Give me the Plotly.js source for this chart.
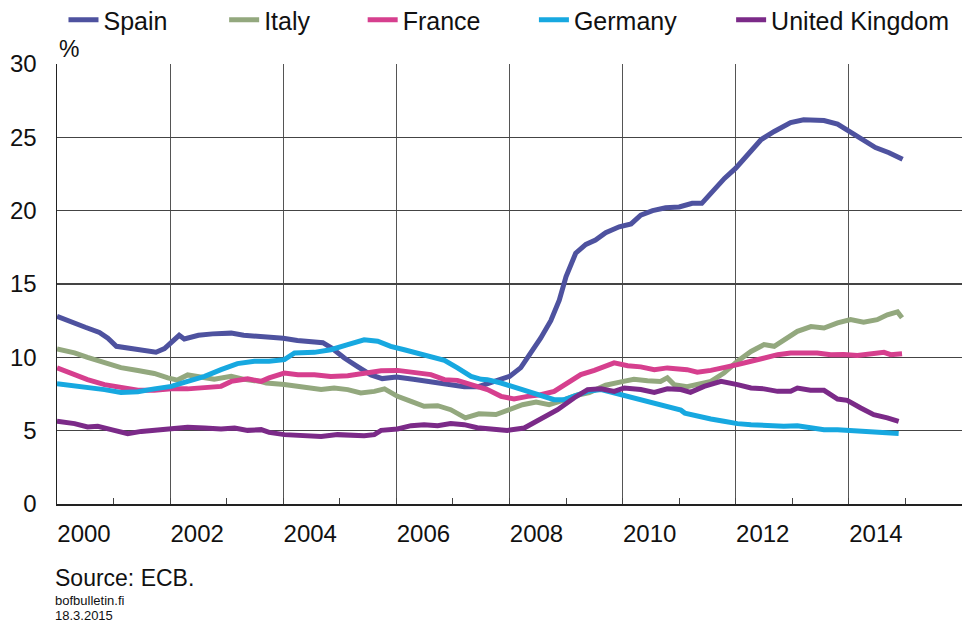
<!DOCTYPE html>
<html>
<head>
<meta charset="utf-8">
<script src="https://cdn.plot.ly/plotly-3.0.1.min.js"></script>
<style>html,body{margin:0;padding:0;background:#fff;}#chart{width:962px;height:627px;}</style>
</head>
<body>
<div id="chart"></div>
<script>
// Unemployment rate, % (decimal years)
const spainX = [2000.0,2000.25,2000.5,2000.75,2000.9,2001.05,2001.3,2001.55,2001.75,2001.9,2002.07,2002.16,2002.25,2002.5,2002.75,2003.08,2003.3,2003.5,2003.75,2004.0,2004.25,2004.5,2004.7,2004.85,2005.08,2005.3,2005.55,2005.75,2006.0,2006.3,2006.6,2006.9,2007.2,2007.45,2007.75,2008.0,2008.2,2008.38,2008.55,2008.73,2008.88,2009.0,2009.17,2009.35,2009.52,2009.7,2009.94,2010.15,2010.32,2010.53,2010.76,2011.0,2011.23,2011.4,2011.58,2011.8,2012.0,2012.2,2012.45,2012.68,2012.97,2013.2,2013.56,2013.8,2014.0,2014.24,2014.47,2014.71,2014.95];
const spainY = [12.8,12.4,12.05,11.7,11.3,10.75,10.6,10.4,10.35,10.6,11.15,11.5,11.25,11.5,11.6,11.65,11.5,11.45,11.4,11.3,11.15,11.1,11.0,10.65,9.95,9.4,8.8,8.55,8.65,8.5,8.35,8.2,8.0,8.0,8.4,8.7,9.3,10.3,11.3,12.5,13.9,15.5,17.1,17.7,18.0,18.5,18.9,19.1,19.7,20.0,20.2,20.25,20.5,20.5,21.3,22.2,22.9,23.8,24.85,25.4,26.0,26.2,26.15,25.9,25.4,24.9,24.3,23.95,23.5];

const italyX = [2000.0,2000.31,2000.54,2000.84,2001.13,2001.43,2001.72,2001.96,2002.13,2002.31,2002.55,2002.78,2003.08,2003.31,2003.61,2003.7,2004.02,2004.37,2004.67,2004.9,2005.14,2005.37,2005.61,2005.79,2006.02,2006.26,2006.49,2006.73,2006.96,2007.22,2007.46,2007.76,2007.99,2008.23,2008.47,2008.7,2008.93,2009.17,2009.41,2009.7,2009.97,2010.2,2010.44,2010.67,2010.79,2010.91,2011.14,2011.32,2011.56,2011.79,2012.03,2012.27,2012.5,2012.68,2012.85,2013.09,2013.33,2013.56,2013.8,2014.03,2014.26,2014.5,2014.68,2014.86,2014.94];
const italyY = [10.57,10.3,10.0,9.6,9.3,9.1,8.9,8.6,8.45,8.8,8.65,8.5,8.7,8.5,8.35,8.25,8.15,8.0,7.8,7.9,7.8,7.57,7.68,7.85,7.34,7.0,6.66,6.7,6.43,5.87,6.15,6.1,6.45,6.77,6.95,6.77,7.05,7.4,7.6,8.1,8.33,8.5,8.4,8.36,8.6,8.14,8.0,8.14,8.36,8.93,9.73,10.4,10.87,10.75,11.2,11.77,12.1,12.0,12.35,12.57,12.4,12.57,12.9,13.1,12.7];

const franceX = [2000.0,2000.31,2000.54,2000.84,2001.13,2001.43,2001.72,2002.02,2002.31,2002.61,2002.9,2003.08,2003.37,2003.61,2003.75,2004.02,2004.26,2004.55,2004.84,2005.14,2005.43,2005.73,2006.02,2006.32,2006.61,2006.85,2007.08,2007.32,2007.5,2007.61,2007.85,2008.08,2008.32,2008.55,2008.79,2009.02,2009.26,2009.5,2009.73,2009.85,2010.09,2010.32,2010.56,2010.79,2011.14,2011.32,2011.56,2011.79,2012.03,2012.27,2012.5,2012.74,2012.97,2013.21,2013.44,2013.68,2013.91,2014.15,2014.39,2014.62,2014.74,2014.94];
const franceY = [9.28,8.82,8.48,8.14,7.91,7.75,7.75,7.85,7.85,7.91,8.02,8.36,8.53,8.36,8.6,8.93,8.82,8.82,8.7,8.75,8.93,9.09,9.11,8.98,8.82,8.48,8.43,8.14,7.95,7.8,7.34,7.16,7.34,7.45,7.68,8.25,8.82,9.11,9.39,9.62,9.43,9.35,9.16,9.28,9.16,8.98,9.11,9.28,9.5,9.73,9.96,10.18,10.3,10.34,10.3,10.18,10.2,10.12,10.25,10.34,10.18,10.25];

const germanyX = [2000.0,2000.31,2000.54,2000.84,2001.13,2001.43,2001.72,2002.02,2002.31,2002.61,2002.9,2003.19,2003.49,2003.75,2004.02,2004.2,2004.55,2004.84,2005.14,2005.43,2005.67,2005.9,2006.14,2006.37,2006.61,2006.85,2007.08,2007.32,2007.5,2007.61,2007.85,2008.08,2008.32,2008.55,2008.79,2008.97,2009.14,2009.38,2009.62,2009.85,2010.09,2010.32,2010.56,2010.79,2011.03,2011.1,2011.3,2011.56,2011.79,2012.03,2012.27,2012.56,2012.85,2013.09,2013.32,2013.56,2013.8,2014.03,2014.26,2014.5,2014.74,2014.88];
const germanyY = [8.2,8.07,7.98,7.8,7.61,7.66,7.85,8.02,8.36,8.7,9.16,9.57,9.73,9.73,9.84,10.3,10.34,10.52,10.87,11.2,11.1,10.75,10.52,10.3,10.07,9.8,9.28,8.7,8.5,8.48,8.25,7.98,7.68,7.34,7.11,7.11,7.34,7.68,7.8,7.57,7.34,7.11,6.89,6.7,6.4,6.2,6.0,5.8,5.64,5.48,5.41,5.34,5.3,5.34,5.18,5.07,5.07,5.02,4.95,4.95,4.88,4.8];

const ukX = [2000.0,2000.31,2000.54,2000.72,2000.96,2001.25,2001.49,2001.72,2002.02,2002.31,2002.61,2002.9,2003.14,2003.37,2003.61,2003.75,2004.02,2004.37,2004.67,2004.96,2005.2,2005.43,2005.61,2005.73,2006.02,2006.26,2006.49,2006.73,2006.96,2007.2,2007.43,2007.67,2007.96,2008.26,2008.55,2008.85,2009.14,2009.38,2009.62,2009.85,2010.03,2010.32,2010.56,2010.79,2011.03,2011.2,2011.44,2011.74,2012.03,2012.27,2012.5,2012.74,2012.97,2013.09,2013.32,2013.56,2013.8,2013.97,2014.21,2014.44,2014.68,2014.88];
const ukY = [5.64,5.48,5.25,5.3,5.07,4.8,4.95,5.02,5.11,5.23,5.18,5.11,5.18,5.02,5.07,4.88,4.73,4.66,4.61,4.73,4.66,4.66,4.73,5.02,5.11,5.34,5.41,5.34,5.48,5.41,5.2,5.11,5.02,5.18,5.75,6.43,7.23,7.8,7.85,7.68,7.91,7.8,7.61,7.85,7.8,7.61,8.02,8.36,8.14,7.91,7.85,7.68,7.68,7.91,7.75,7.75,7.16,7.07,6.55,6.09,5.87,5.64];

const tickYears = [2000,2002,2004,2006,2008,2010,2012,2014];
const tickLabels = ['2000','2002','2004','2006','2008','2010','2012','2014'];
const minorYears = [2001,2003,2005,2007,2009,2011,2013,2015];
const yTicks = [0,5,10,15,20,25,30];

const FONT = 'Arial, "Liberation Sans", sans-serif';
const series = [
  {name:'Spain', x:spainX, y:spainY, color:'#4e529f', legend:'legend', lx:0.066},
  {name:'Italy', x:italyX, y:italyY, color:'#93a87e', legend:'legend2', lx:0.233},
  {name:'France', x:franceX, y:franceY, color:'#d63f8e', legend:'legend3', lx:0.377},
  {name:'Germany', x:germanyX, y:germanyY, color:'#17a8e0', legend:'legend4', lx:0.555},
  {name:'United Kingdom', x:ukX, y:ukY, color:'#7b2a88', legend:'legend5', lx:0.760}
];

const data = series.map(s => ({
  type:'scatter', mode:'lines', name:s.name, x:s.x, y:s.y,
  line:{color:s.color, width:5}, legend:s.legend, hoverinfo:'skip'
}));

// plot area: y=0 at 504px, y=30 at 64px (440px tall)
const py = pix => (504 - pix) / 440;

const layout = {
  width:962, height:627,
  margin:{l:57, r:0, t:64, b:123},
  paper_bgcolor:'#fff', plot_bgcolor:'#fff',
  font:{family:FONT, size:24, color:'#111'},
  xaxis:{
    range:[2000,2016], tickvals:tickYears, ticktext:tickLabels,
    ticklabelshift:27, ticklabelstandoff:8,
    showgrid:true, gridcolor:'#555', gridwidth:1.2,
    showline:true, linecolor:'#222', linewidth:1.5,
    ticks:'inside', ticklen:6, tickcolor:'#444', zeroline:false,
    minor:{ticks:'inside', tickvals:minorYears, ticklen:6, tickcolor:'#444', tickwidth:1, showgrid:false},
    tickfont:{size:24, family:FONT, color:'#111'}
  },
  yaxis:{
    range:[0,30], tickvals:yTicks, ticks:'',
    ticklabelstandoff:14,
    showgrid:true, gridcolor:'#444', gridwidth:1.2,
    showline:true, linecolor:'#222', linewidth:1.5, zeroline:false,
    tickfont:{size:24, family:FONT, color:'#111'}
  },
  showlegend:true,
  annotations:[
    {text:'%', xref:'paper', yref:'paper', x:0.0, y:1.0, xanchor:'left', yanchor:'bottom', showarrow:false, font:{size:23, family:FONT, color:'#111'}},
    {text:'Source: ECB.', xref:'paper', yref:'paper', x:-0.004, y:py(578), xanchor:'left', yanchor:'middle', showarrow:false, font:{size:23, family:FONT, color:'#111'}},
    {text:'bofbulletin.fi', xref:'paper', yref:'paper', x:-0.004, y:py(600), xanchor:'left', yanchor:'middle', showarrow:false, font:{size:13, family:FONT, color:'#111'}},
    {text:'18.3.2015', xref:'paper', yref:'paper', x:-0.004, y:py(616), xanchor:'left', yanchor:'middle', showarrow:false, font:{size:13, family:FONT, color:'#111'}}
  ]
};
series.forEach(s => {
  layout[s.legend] = {
    xref:'container', yref:'container', x:s.lx, y:1 - 20/627, xanchor:'left', yanchor:'middle',
    orientation:'h', bgcolor:'rgba(0,0,0,0)', borderwidth:0,
    font:{size:25, family:FONT, color:'#111'}, itemwidth:30
  };
});

Plotly.newPlot('chart', data, layout, {staticPlot:true, displayModeBar:false});
</script>
</body>
</html>
